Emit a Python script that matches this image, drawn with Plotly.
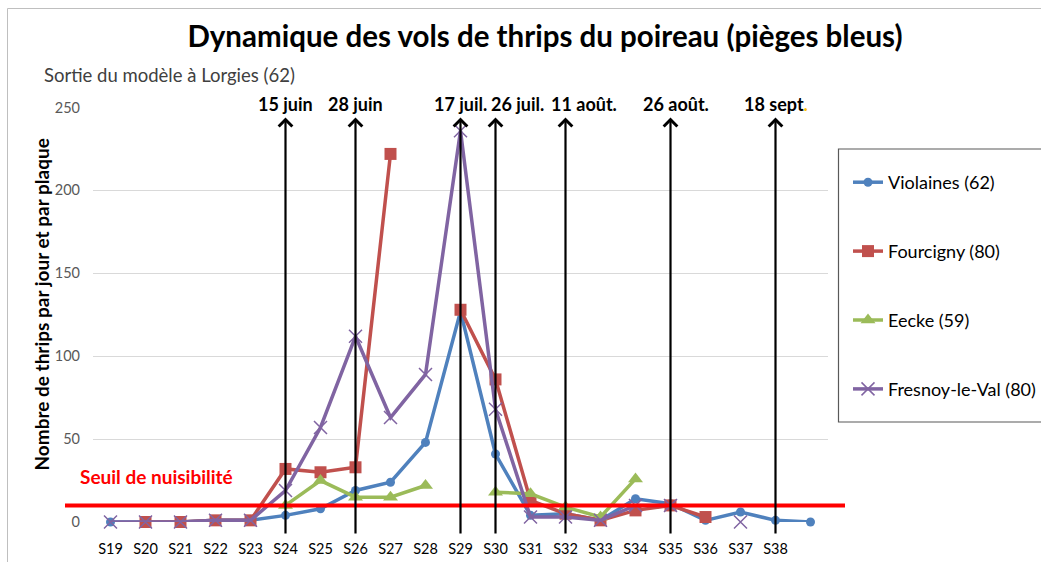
import plotly.graph_objects as go

# ---------------- data ----------------
weeks = ["S19", "S20", "S21", "S22", "S23", "S24", "S25", "S26", "S27", "S28",
         "S29", "S30", "S31", "S32", "S33", "S34", "S35", "S36", "S37", "S38", "S39"]
week_labels = ["S19", "S20", "S21", "S22", "S23", "S24", "S25", "S26", "S27", "S28",
               "S29", "S30", "S31", "S32", "S33", "S34", "S35", "S36", "S37", "S38", ""]

violaines = [0, 0, 0, 1, 1, 4, 8, 19, 24, 48, 127, 41, 4, 5, 1, 14, 11, 1, 6, 1, 0]
fourcigny = [None, 0, 0, 1, 1, 32, 30, 33, 222, None, 128, 86, 13, 5, 1, 7, 10, 3, None, None, None]
eecke = [None, None, None, None, None, 10, 25, 15, 15, 22, None, 18, 17, 9, 3, 26,
         None, None, None, None, None]
fresnoy = [0, 0, 0, 1, 1, 19, 57, 112, 63, 89, 236, 68, 3, 3, 1, 10, 10, None, 0, None, None]

series_names = ["Violaines (62)", "Fourcigny (80)", "Eecke (59)", "Fresnoy-le-Val (80)"]

seuil = 10
seuil_label = "Seuil de nuisibilité"

arrow_dates = ["15 juin", "28 juin", "17 juil.", "26 juil.", "11 août.", "26 août.", "18 sept"]
arrow_weeks = ["S24", "S26", "S29", "S30", "S32", "S35", "S38"]

title = "Dynamique des vols de thrips du poireau (pièges bleus)"
subtitle = "Sortie du modèle à Lorgies (62)"
y_title = "Nombre de thrips par jour et par plaque"

# ---------------- layout geometry (pixels) ----------------
W, H = 1041, 562
PL, PR, PT, PB = 93, 828, 107, 522      # plot area
YMAX = 250


def px_x(px):
    return (px - PL) / (PR - PL)


def px_y(py):
    return (PB - py) / (PB - PT)


def val_y(py):
    return (PB - py) / (PB - PT) * YMAX


FONT = "Lato"

fig = go.Figure()

styles = [
    dict(color="#4F81BD", symbol="circle", size=9, lw=3.5),
    dict(color="#C0504D", symbol="square", size=12, lw=3.5),
    dict(color="#9BBB59", symbol="triangle-up", size=13, lw=3.5),
    dict(color="#8064A2", symbol="x-thin", size=13, lw=3.5),
]
for name, vals, st in zip(series_names, [violaines, fourcigny, eecke, fresnoy], styles):
    marker = dict(color=st["color"], symbol=st["symbol"], size=st["size"])
    if st["symbol"] == "x-thin":
        marker["line"] = dict(color=st["color"], width=1.5)
    fig.add_trace(go.Scatter(
        x=weeks, y=vals, name=name, mode="lines+markers",
        line=dict(color=st["color"], width=st["lw"]),
        marker=marker, connectgaps=False, cliponaxis=False,
        legendgroup=name,
    ))

shapes = []
# threshold line
shapes.append(dict(type="line", xref="paper", yref="y",
                   x0=px_x(65), x1=px_x(845), y0=seuil, y1=seuil,
                   line=dict(color="#FF0000", width=4), layer="above"))
# legend box
shapes.append(dict(type="rect", xref="paper", yref="paper",
                   x0=px_x(838.5), x1=px_x(1200), y0=px_y(422), y1=px_y(149),
                   line=dict(color="#595959", width=1.2), fillcolor="rgba(0,0,0,0)"))
# outer chart border
shapes.append(dict(type="rect", xref="paper", yref="paper",
                   x0=px_x(7.5), x1=px_x(1200), y0=px_y(700), y1=px_y(8.5),
                   line=dict(color="#BFBFBF", width=1), fillcolor="rgba(0,0,0,0)", layer="below"))

annotations = []
label_shift = {"26 juil.": 22, "11 août.": 18, "26 août.": 5}
for d, w in zip(arrow_dates, arrow_weeks):
    annotations.append(dict(
        x=w, y=val_y(117), ax=w, ay=val_y(535), xref="x", yref="y",
        axref="x", ayref="y", text="", showarrow=True,
        arrowhead=4, arrowsize=1.2, arrowwidth=2.2, arrowcolor="black", standoff=0,
    ))
    txt = "<b>" + d + "</b>"
    if d == "18 sept":
        txt = "<b>18 sept</b><span style='color:#FFC000'><b>.</b></span>"
    annotations.append(dict(
        x=w, y=YMAX, xref="x", yref="y", text=txt, showarrow=False,
        yanchor="middle", yshift=4, xshift=label_shift.get(d, 0),
        font=dict(family=FONT, size=18, color="black"),
    ))

annotations.append(dict(
    x=px_x(78), y=val_y(476), xref="paper", yref="y", xanchor="left",
    text="<b>" + seuil_label + "</b>", showarrow=False,
    font=dict(family=FONT, size=19, color="#FF0000"),
))
annotations.append(dict(
    x=px_x(42), y=px_y(75), xref="paper", yref="paper", xanchor="left",
    yanchor="middle", text=subtitle, showarrow=False,
    font=dict(family=FONT, size=18.5, color="#404040"),
))
annotations.append(dict(
    x=px_x(27), y=px_y(305), xref="paper", yref="paper", textangle=-90,
    text="<b>" + y_title + "</b>", showarrow=False,
    font=dict(family=FONT, size=19, color="black"),
))

fig.update_layout(
    width=W, height=H,
    margin=dict(l=PL, r=W - PR, t=PT, b=H - PB, pad=0, autoexpand=False),
    paper_bgcolor="white", plot_bgcolor="white",
    title=dict(text="<b>" + title + "</b>", x=545 / W, xref="container",
               xanchor="center", y=1 - 37 / H, yref="container", yanchor="middle",
               font=dict(family=FONT, size=29.5, color="black")),
    font=dict(family=FONT),
    xaxis=dict(type="category", categoryorder="array", categoryarray=weeks,
               tickmode="array", tickvals=weeks, ticktext=week_labels,
               range=[-0.5, len(weeks) - 0.5], showgrid=False, zeroline=False,
               showline=False, ticks="", ticklabelstandoff=16, automargin=False,
               tickfont=dict(family=FONT, size=14.5, color="black")),
    yaxis=dict(range=[0, YMAX + 0.3], tickvals=[0, 50, 100, 150, 200, 250],
               showgrid=True, gridcolor="#D9D9D9", gridwidth=1, zeroline=False,
               showline=False, ticks="", ticklabelstandoff=12, automargin=False,
               tickfont=dict(family=FONT, size=14.5, color="#595959")),
    legend=dict(x=px_x(848), y=px_y(164), xanchor="left", yanchor="top",
                xref="paper", yref="paper", bgcolor="rgba(0,0,0,0)", borderwidth=0,
                tracegroupgap=42.5, itemwidth=30,
                font=dict(family=FONT, size=18, color="black")),
    shapes=shapes, annotations=annotations,
)

fig.write_html(
    "out.html",
    config={"displayModeBar": False},
    post_script="document.body.style.margin='0';"
                "document.documentElement.style.overflow='hidden';"
                "document.body.style.overflow='hidden';",
)
